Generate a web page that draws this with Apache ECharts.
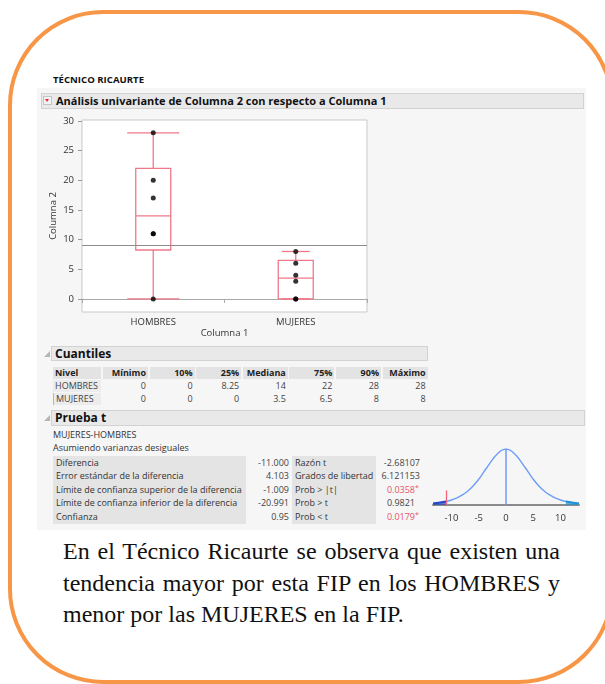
<!DOCTYPE html>
<html>
<head>
<meta charset="utf-8">
<script src="https://cdn.jsdelivr.net/npm/echarts@6/dist/echarts.min.js"></script>
<style>
  body { margin: 0; background: #fff; }
  #page { position: relative; width: 605px; height: 684px; overflow: hidden; }
  .abs { position: absolute; white-space: nowrap; }
  .jmp { font-family: "Open Sans", "Noto Sans", sans-serif; color: #333; }
  #frame { position: absolute; left: 8px; top: 10px; width: 598px; height: 666px;
           border: 4px solid #f79646; border-radius: 95px; }
  #panel { position: absolute; left: 37px; top: 88px; width: 549px; height: 442px; background: #f6f6f6; }
  .bar { position: absolute; background: #e9e9e9; border: 1px solid #d2d2d2; box-sizing: border-box; }
  .barTitle { font-weight: bold; color: #111; }
  .tri { position: absolute; width: 0; height: 0; border-left: 6px solid transparent; border-bottom: 6px solid #b5b5b5; }
  .cell { position: absolute; box-sizing: border-box; font-size: 9px; white-space: nowrap; }
  #chart { position: absolute; left: 0; top: 0; width: 605px; height: 684px; z-index: 2; }
  #note { position: absolute; left: 63px; top: 536px; width: 497px; font-family: "Liberation Serif", "Times New Roman", serif;
          font-size: 24px; line-height: 31.5px; text-align: justify; color: #111; }
</style>
</head>
<body>
<div id="page">
  <div id="frame"></div>
  <div id="panel"></div>
  <div class="abs jmp" style="left:53px;top:73px;font-size:9.6px;font-weight:bold;color:#111;">TÉCNICO RICAURTE</div>

  <div class="bar" style="left:41px;top:93px;width:543px;height:16px;"></div>
  <div class="abs" style="left:43px;top:96px;width:9px;height:9px;background:#f3f3f3;border:1px solid #c4c4c4;box-sizing:border-box;"></div>
  <div class="abs" style="left:45px;top:99px;width:0;height:0;border-left:2.5px solid transparent;border-right:2.5px solid transparent;border-top:3.5px solid #e0303c;"></div>
  <div class="abs jmp barTitle" style="left:56px;top:93px;font-size:11px;line-height:16px;">Análisis univariante de Columna 2 con respecto a Columna 1</div>

  <div class="tri" style="left:44px;top:351px;"></div>
  <div class="bar" style="left:51px;top:346px;width:377px;height:15px;"></div>
  <div class="abs jmp barTitle" style="left:55px;top:346px;font-size:12px;line-height:15px;">Cuantiles</div>
  <div id="quantTable"></div>

  <div class="tri" style="left:44px;top:415px;"></div>
  <div class="bar" style="left:51px;top:410px;width:534px;height:16px;"></div>
  <div class="abs jmp barTitle" style="left:55px;top:410px;font-size:12px;line-height:16px;">Prueba t</div>
  <div class="abs jmp" style="left:53px;top:429px;font-size:9px;line-height:12px;">MUJERES-HOMBRES</div>
  <div class="abs jmp" style="left:53px;top:442px;font-size:9px;line-height:12px;">Asumiendo varianzas desiguales</div>
  <div id="tTable"></div>

  <div id="note">En el Técnico Ricaurte se observa que existen una tendencia mayor por esta FIP en los HOMBRES y menor por las MUJERES en la FIP.</div>
  <div id="chart"></div>
</div>

<script>
// categorias y datos individuales
const categories = ["HOMBRES", "MUJERES"];
const hombresPoints = [0, 11, 11, 17, 20, 28];
const mujeresPoints = [0, 0, 3, 4, 6, 8];
const yTicks = [0, 5, 10, 15, 20, 25, 30];

// tabla de cuantiles
const quantileHeaders = ["Nivel", "Mínimo", "10%", "25%", "Mediana", "75%", "90%", "Máximo"];
const hombresQuantiles = [0, 0, 8.25, 14, 22, 28, 28];
const mujeresQuantiles = [0, 0, 0, 3.5, 6.5, 8, 8];

// prueba t
const diffLabels = ["Diferencia", "Error estándar de la diferencia", "Límite de confianza superior de la diferencia",
  "Límite de confianza inferior de la diferencia", "Confianza"];
const diffValues = ["-11.000", "4.103", "-1.009", "-20.991", "0.95"];
const statLabels = ["Razón t", "Grados de libertad", "Prob > |t|", "Prob > t", "Prob < t"];
const statValues = ["-2.68107", "6.121153", "0.0358*", "0.9821", "0.0179*"];
const observedDiff = -11;

// curva t (altura relativa)
const curveX = [-13.4, -13, -12, -11, -10, -9, -8, -7, -6, -5, -4, -3, -2, -1, -0.5, 0,
  0.5, 1, 2, 3, 4, 5, 6, 7, 8, 9, 10, 11, 12, 13, 13.4];
const curveY = [0.028, 0.032, 0.045, 0.063, 0.089, 0.127, 0.18, 0.25, 0.345, 0.46, 0.6, 0.74, 0.87, 0.965, 0.99, 1,
  0.99, 0.965, 0.87, 0.74, 0.6, 0.46, 0.345, 0.25, 0.18, 0.127, 0.089, 0.063, 0.045, 0.032, 0.028];
const curveTicks = [-10, -5, 0, 5, 10];

// ---- tablas html ----
function fmt(v) { return String(v); }

(function buildQuantTable() {
  let html = "";
  const rows = [quantileHeaders, ["HOMBRES"].concat(hombresQuantiles.map(fmt)), ["MUJERES"].concat(mujeresQuantiles.map(fmt))];
  const tops = [366.5, 379.5, 392.5];
  rows.forEach(function (row, r) {
    row.forEach(function (txt, c) {
      const left = c === 0 ? 53 : 103 + (c - 1) * 46.6;
      const width = c === 0 ? 48 : 45;
      let style = "left:" + left + "px;top:" + tops[r] + "px;width:" + width + "px;height:12.5px;line-height:12.5px;";
      if (r === 0) style += "background:#e3e3e3;font-weight:bold;color:#222;";
      else if (c === 0) style += "background:#ececec;color:#444;";
      else style += "color:#444;";
      style += c === 0 ? "text-align:left;padding-left:2px;" : "text-align:right;padding-right:2px;";
      if (r === 2 && c === 0) style += "border-left:1px solid #9ab8e8;";
      html += '<div class="cell jmp" style="' + style + '">' + txt + "</div>";
    });
  });
  document.getElementById("quantTable").innerHTML = html;
})();

(function buildTTable() {
  let html = "";
  const top0 = 455.5, rh = 13.6;
  html += '<div class="cell" style="left:53px;top:' + top0 + 'px;width:193px;height:' + (rh * 5) + 'px;background:#e4e4e4;"></div>';
  html += '<div class="cell" style="left:292px;top:' + top0 + 'px;width:84px;height:' + (rh * 5) + 'px;background:#e4e4e4;"></div>';
  diffLabels.forEach(function (lbl, i) {
    const t = top0 + i * rh;
    const base = "top:" + t + "px;height:" + rh + "px;line-height:" + rh + "px;";
    html += '<div class="cell jmp" style="' + base + 'left:53px;padding-left:3px;color:#333;">' + lbl + "</div>";
    html += '<div class="cell jmp" style="' + base + 'left:246px;width:43px;text-align:right;color:#444;">' + diffValues[i] + "</div>";
    html += '<div class="cell jmp" style="' + base + 'left:292px;padding-left:3px;color:#333;">' + statLabels[i] + "</div>";
    const v = statValues[i];
    const sig = v.endsWith("*");
    const num = sig ? v.slice(0, -1) : v;
    const right = i < 2 ? 420 : 415;
    let inner = num;
    if (sig) inner += '<span style="position:absolute;left:100%;top:-2px;font-size:7px;">*</span>';
    html += '<div class="cell jmp" style="' + base + 'left:' + (right - 45) + 'px;width:45px;text-align:right;color:' +
      (sig ? "#e8546b" : "#444") + ';"><span style="position:relative;">' + inner + "</span></div>";
  });
  document.getElementById("tTable").innerHTML = html;
})();

// ---- grafico ----
const allPoints = hombresPoints.concat(mujeresPoints);
const grandMean = allPoints.reduce(function (a, b) { return a + b; }, 0) / allPoints.length;

// [categoria, min, q1, mediana, q3, max]
const boxData = [hombresQuantiles, mujeresQuantiles].map(function (q, i) {
  return [i, q[0], q[2], q[3], q[4], q[6]];
});
const pointData = hombresPoints.map(function (v) { return [0, v]; })
  .concat(mujeresPoints.map(function (v) { return [1, v]; }));

const curveData = curveX.map(function (x, i) { return [x, curveY[i]]; });
const leftTail = curveData.filter(function (d) { return d[0] <= observedDiff; });
const rightTail = curveData.filter(function (d) { return d[0] >= -observedDiff; });

const font = '"Open Sans", "Noto Sans", sans-serif';
const boxColor = "#f0788a";
const capWidth = [52, 28];

const chart = echarts.init(document.getElementById("chart"), null, { renderer: "canvas" });
chart.setOption({
  animation: false,
  textStyle: { fontFamily: font },
  grid: [
    { left: 82, top: 120, width: 285, height: 192, show: true, backgroundColor: "#fff", borderColor: "#c9c9c9", borderWidth: 1 },
    { left: 433, top: 449, width: 146, height: 56 }
  ],
  xAxis: [
    {
      type: "category", gridIndex: 0, data: categories,
      axisLine: { lineStyle: { color: "#a8a8a8" } },
      axisTick: { show: true, length: 4, lineStyle: { color: "#a8a8a8" } },
      axisLabel: { fontSize: 9.5, color: "#333", margin: 5 },
      name: "Columna 1", nameLocation: "middle", nameGap: 16,
      nameTextStyle: { fontSize: 9.5, color: "#333" }
    },
    {
      type: "value", gridIndex: 1, min: -13.4, max: 13.4,
      axisLine: { onZero: false, lineStyle: { color: "#8a8a8a", width: 2 } },
      axisTick: { show: false },
      splitLine: { show: false },
      axisLabel: { fontSize: 9.5, color: "#333", margin: 8, customValues: curveTicks }
    }
  ],
  yAxis: [
    {
      type: "value", gridIndex: 0, min: -2.2, max: 30.17,
      axisLine: { show: false },
      axisTick: { show: true, length: 4, customValues: yTicks, lineStyle: { color: "#9a9a9a" } },
      axisLabel: { fontSize: 9.5, color: "#333", margin: 8, customValues: yTicks },
      splitLine: { show: false },
      name: "Columna 2", nameLocation: "middle", nameRotate: 90, nameGap: 24,
      nameTextStyle: { fontSize: 9.5, color: "#333" }
    },
    { type: "value", gridIndex: 1, min: 0, max: 1, show: false }
  ],
  series: [
    {
      type: "custom", xAxisIndex: 0, yAxisIndex: 0, data: boxData,
      encode: { x: 0, y: [1, 2, 3, 4, 5] },
      renderItem: function (params, api) {
        const idx = api.value(0);
        const pMin = api.coord([idx, api.value(1)]);
        const pQ1 = api.coord([idx, api.value(2)]);
        const pMed = api.coord([idx, api.value(3)]);
        const pQ3 = api.coord([idx, api.value(4)]);
        const pMax = api.coord([idx, api.value(5)]);
        const x = pMed[0], bw = 35, cw = capWidth[idx];
        const st = { stroke: boxColor, fill: null, lineWidth: 1.3 };
        const line = function (x1, y1, x2, y2) {
          return { type: "line", shape: { x1: x1, y1: y1, x2: x2, y2: y2 }, style: st };
        };
        return {
          type: "group",
          children: [
            { type: "rect", shape: { x: x - bw / 2, y: pQ3[1], width: bw, height: pQ1[1] - pQ3[1] }, style: st },
            line(x - bw / 2, pMed[1], x + bw / 2, pMed[1]),
            line(x, pQ3[1], x, pMax[1]),
            line(x, pQ1[1], x, pMin[1]),
            line(x - cw / 2, pMax[1], x + cw / 2, pMax[1]),
            line(x - cw / 2, pMin[1], x + cw / 2, pMin[1])
          ]
        };
      },
      markLine: {
        silent: true, symbol: "none", label: { show: false },
        lineStyle: { color: "#8c8c8c", width: 1, type: "solid" },
        data: [{ yAxis: grandMean }]
      },
      z: 3
    },
    {
      type: "scatter", xAxisIndex: 0, yAxisIndex: 0, data: pointData,
      symbolSize: 5, itemStyle: { color: "#000" }, z: 4
    },
    {
      type: "line", xAxisIndex: 1, yAxisIndex: 1, data: curveData, smooth: 0.4,
      showSymbol: false, lineStyle: { color: "#6f9cf5", width: 1.4 },
      markLine: {
        silent: true, symbol: "none", label: { show: false },
        data: [
          [{ coord: [0, 0], lineStyle: { color: "#6f9cf5", width: 1.5, type: "solid" } }, { coord: [0, 1] }],
          [{ coord: [observedDiff, 0], lineStyle: { color: "#f06378", width: 1.3, type: "solid" } }, { coord: [observedDiff, 0.26] }]
        ]
      }
    },
    {
      type: "line", xAxisIndex: 1, yAxisIndex: 1, data: leftTail, smooth: 0.4, showSymbol: false,
      lineStyle: { color: "#2346c4", width: 2 }, areaStyle: { color: "#2346c4" }
    },
    {
      type: "line", xAxisIndex: 1, yAxisIndex: 1, data: rightTail, smooth: 0.4, showSymbol: false,
      lineStyle: { color: "#1e93cf", width: 2 }, areaStyle: { color: "#1e93cf" }
    }
  ]
});
</script>
</body>
</html>
